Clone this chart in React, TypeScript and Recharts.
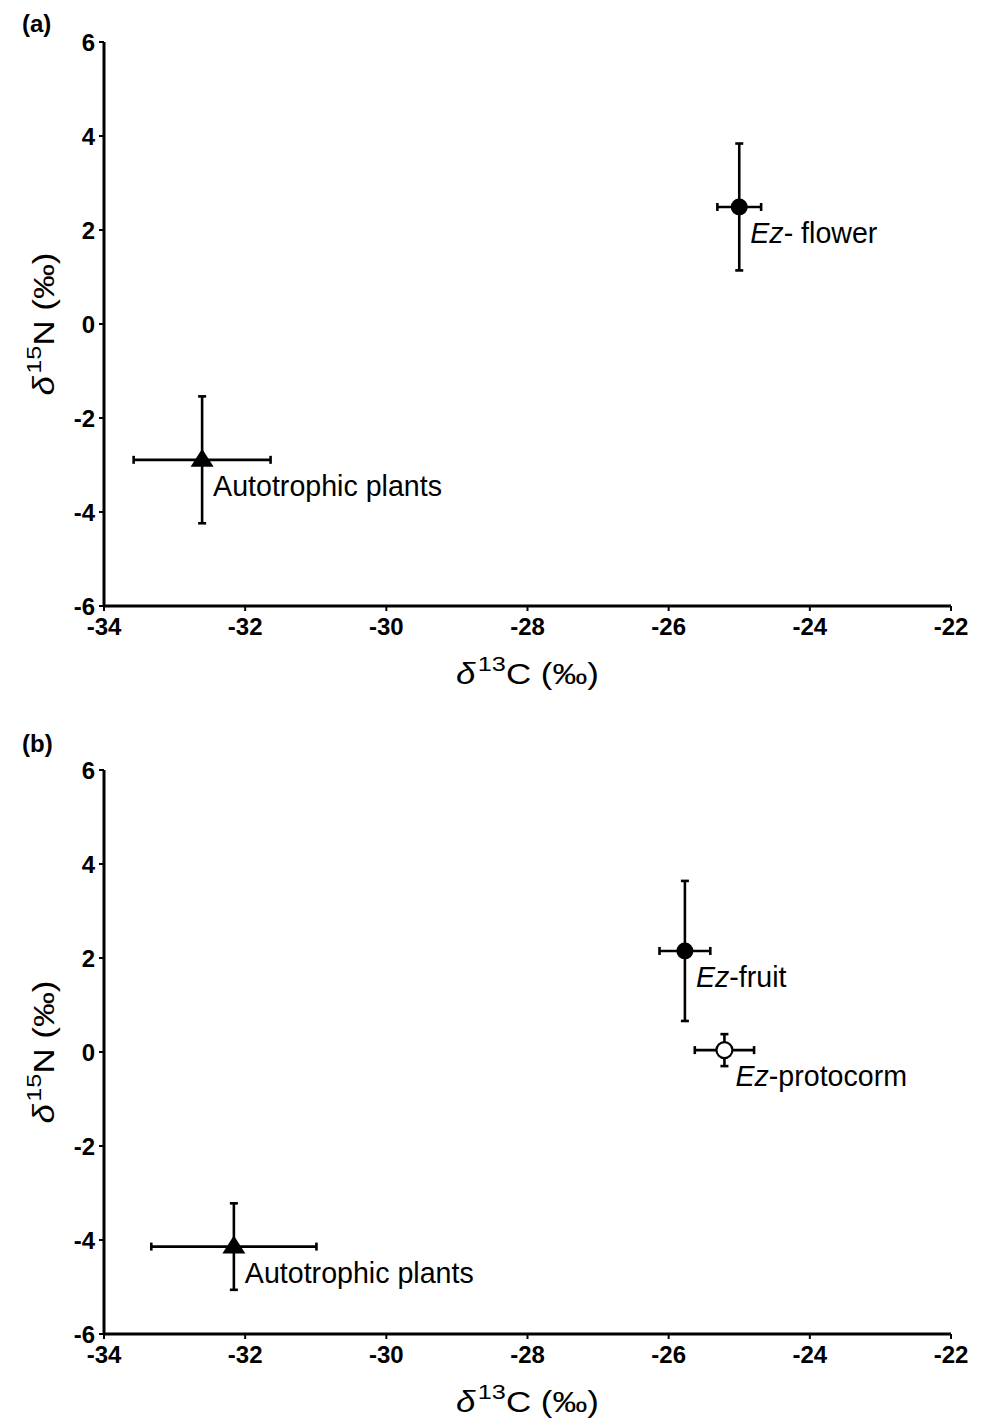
import React from 'react';
import { ScatterChart, Scatter, XAxis, YAxis, ErrorBar } from 'recharts';

const FONT = '"Liberation Sans", Arial, Helvetica, sans-serif';

// axis ticks
const xTicks = [-34, -32, -30, -28, -26, -24, -22];
const yTicks = [-6, -4, -2, 0, 2, 4, 6];

// panel (a)
const flowerA = [{ x: -25.0, y: 2.49, xErr: 0.31, yErr: 1.35 }];
const autoA = [{ x: -32.61, y: -2.89, xErr: 0.97, yErr: 1.35 }];
const flowerALabel = ['Ez', '- flower'];
const autoALabel = ['', 'Autotrophic plants'];

// panel (b)
const fruitB = [{ x: -25.77, y: 2.15, xErr: 0.36, yErr: 1.49 }];
const protoB = [{ x: -25.21, y: 0.04, xErr: 0.42, yErr: 0.34 }];
const autoB = [{ x: -32.16, y: -4.14, xErr: 1.17, yErr: 0.92 }];
const fruitBLabel = ['Ez', '-fruit'];
const protoBLabel = ['Ez', '-protocorm'];
const autoBLabel = ['', 'Autotrophic plants'];

type Kind = 'circle' | 'open' | 'triangle';

function makeShape(kind: Kind, label: string[]) {
  return (props: any) => {
    const { cx, cy } = props;
    let marker;
    if (kind === 'circle') marker = <circle cx={cx} cy={cy} r={8.5} fill="#000" />;
    else if (kind === 'open')
      marker = <circle cx={cx} cy={cy} r={8} fill="#fff" stroke="#000" strokeWidth={2.2} />;
    else
      marker = (
        <path d={`M${cx},${cy - 11} L${cx + 11.5},${cy + 7} L${cx - 11.5},${cy + 7} Z`} fill="#000" />
      );
    return (
      <g>
        {marker}
        <text x={cx + 11} y={cy + 36} fontSize={28.6} fontFamily={FONT} fill="#000">
          {label[0] ? <tspan fontStyle="italic">{label[0]}</tspan> : null}
          <tspan>{label[1]}</tspan>
        </text>
      </g>
    );
  };
}

const XTitle = (props: any) => {
  const vb = props.viewBox;
  return (
    <text
      x={vb.x + vb.width / 2}
      y={vb.y + 78}
      textAnchor="middle"
      fontSize={29}
      fontFamily={FONT}
      fill="#000"
      textLength={143}
      lengthAdjust="spacingAndGlyphs"
    >
      <tspan fontStyle="italic">δ</tspan>
      <tspan fontSize={21} dx={2} dy={-13}>13</tspan>
      <tspan dy={13}>C (‰)</tspan>
    </text>
  );
};

const YTitle = (props: any) => {
  const vb = props.viewBox;
  const cx = 54;
  const cy = vb.y + vb.height / 2;
  return (
    <text
      x={cx}
      y={cy}
      transform={`rotate(-90 ${cx} ${cy})`}
      textAnchor="middle"
      fontSize={29}
      fontFamily={FONT}
      fill="#000"
      textLength={143}
      lengthAdjust="spacingAndGlyphs"
    >
      <tspan fontStyle="italic">δ</tspan>
      <tspan fontSize={21} dx={2} dy={-13}>15</tspan>
      <tspan dy={13}>N (‰)</tspan>
    </text>
  );
};

const tickStyle = { fill: '#000', fontSize: 24, fontWeight: 'bold', fontFamily: FONT };
const errProps = { stroke: '#000', strokeWidth: 2.6, width: 4 };

function Panel({
  height,
  bottom,
  series,
}: {
  height: number;
  bottom: number;
  series: { data: any[]; kind: Kind; label: string[] }[];
}) {
  return (
    <ScatterChart width={984} height={height} margin={{ top: 42, right: 33, left: 0, bottom }}>
      <XAxis
        type="number"
        dataKey="x"
        domain={[-34, -22]}
        ticks={xTicks}
        allowDataOverflow
        height={80}
        axisLine={{ stroke: '#000', strokeWidth: 3 }}
        tickLine={{ stroke: '#000', strokeWidth: 2 }}
        tickSize={5}
        tickMargin={7}
        tick={tickStyle}
        interval={0}
        label={{ content: XTitle }}
      />
      <YAxis
        type="number"
        dataKey="y"
        domain={[-6, 6]}
        ticks={yTicks}
        allowDataOverflow
        width={104}
        axisLine={{ stroke: '#000', strokeWidth: 3 }}
        tickLine={{ stroke: '#000', strokeWidth: 2 }}
        tickSize={5}
        tickMargin={4}
        tick={tickStyle}
        interval={0}
        label={{ content: YTitle }}
      />
      {series.map((s, i) => (
        <Scatter key={i} data={s.data} fill="#000" isAnimationActive={false} shape={makeShape(s.kind, s.label)}>
          <ErrorBar dataKey="xErr" direction="x" {...errProps} />
          <ErrorBar dataKey="yErr" direction="y" {...errProps} />
        </Scatter>
      ))}
    </ScatterChart>
  );
}

const panelLabelStyle: React.CSSProperties = {
  position: 'absolute',
  left: 22,
  fontFamily: FONT,
  fontWeight: 'bold',
  fontSize: 24,
  lineHeight: '24px',
  color: '#000',
};

export default function App() {
  return (
    <div style={{ position: 'absolute', left: 0, top: 0, width: 984, height: 1418, background: '#fff' }}>
      <div style={{ position: 'absolute', left: 0, top: 0 }}>
        <Panel
          height={720}
          bottom={34}
          series={[
            { data: flowerA, kind: 'circle', label: flowerALabel },
            { data: autoA, kind: 'triangle', label: autoALabel },
          ]}
        />
      </div>
      <div style={{ position: 'absolute', left: 0, top: 728 }}>
        <Panel
          height={690}
          bottom={4}
          series={[
            { data: fruitB, kind: 'circle', label: fruitBLabel },
            { data: protoB, kind: 'open', label: protoBLabel },
            { data: autoB, kind: 'triangle', label: autoBLabel },
          ]}
        />
      </div>
      <div style={{ ...panelLabelStyle, top: 12 }}>(a)</div>
      <div style={{ ...panelLabelStyle, top: 732 }}>(b)</div>
    </div>
  );
}
